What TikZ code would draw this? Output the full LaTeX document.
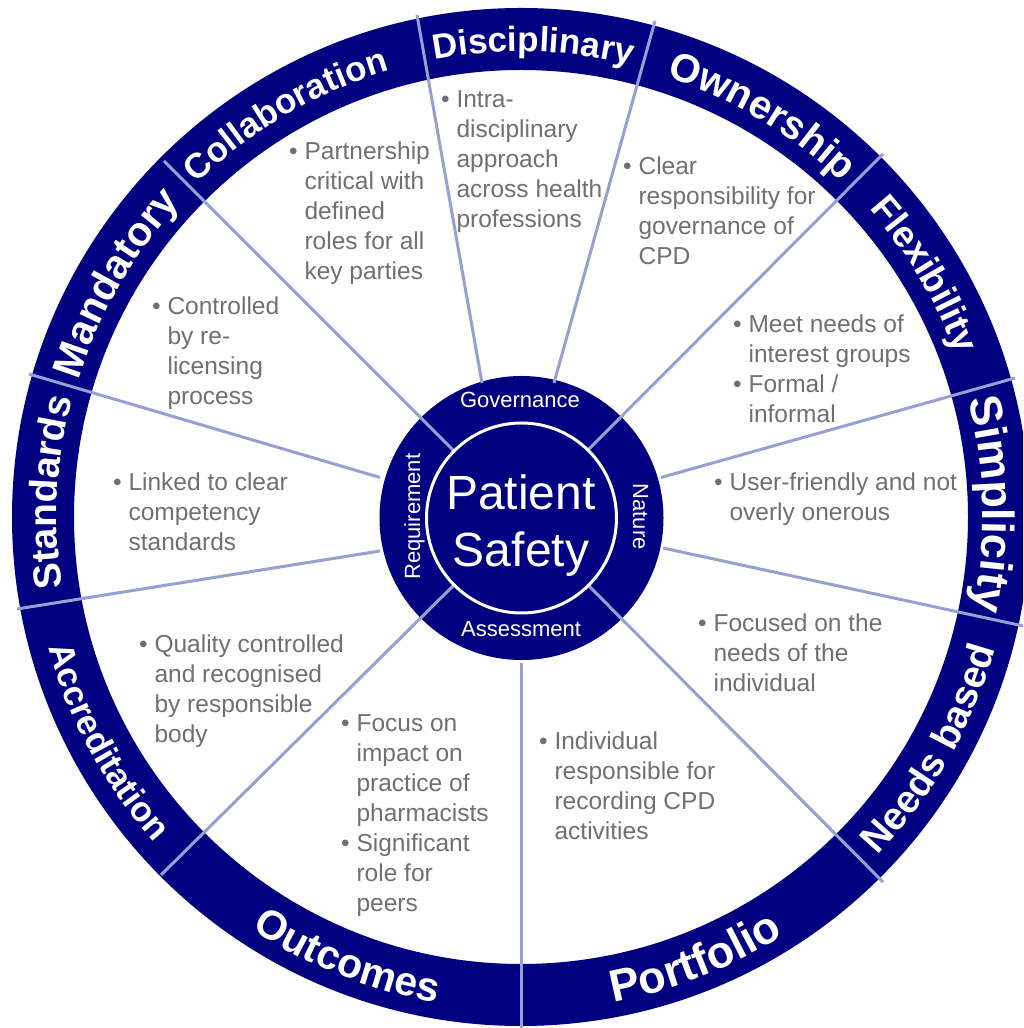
\documentclass[tikz,border=0pt]{standalone}
\usepackage{fontspec}
\setmainfont{Liberation Sans}
\usetikzlibrary{decorations.text}
\definecolor{navyc}{RGB}{0,0,128}
\definecolor{spoke}{RGB}{150,160,210}
\definecolor{bodyg}{RGB}{112,112,112}
\newcommand\blt{\textbullet}
% clockwise ring label: #1 centre angle, #2 font size, #3 text
\newcommand\cwl[3]{\pgfmathsetmacro\rr{478-0.358*#2}\path[ringlabel={#2}{#3}] ([shift={({#1+50}:\rr pt)}]C) arc[start angle={#1+50}, end angle={#1-50}, radius=\rr pt];}
% counter-clockwise ring label
\newcommand\ccwl[3]{\pgfmathsetmacro\rr{478+0.358*#2}\path[ringlabel={#2}{#3}] ([shift={({#1-50}:\rr pt)}]C) arc[start angle={#1-50}, end angle={#1+50}, radius=\rr pt];}
\tikzset{
  spokeline/.style={draw=spoke, line width=3pt},
  blockbox/.style={anchor=base west, inner sep=0pt, text=bodyg, font=\fontsize{24.5}{30}\selectfont},
  hublabel/.style={anchor=base, inner sep=0pt, text=white, font=\fontsize{22}{22}\selectfont},
  ringlabel/.style 2 args={decorate, decoration={text along path, text align=center, text={|\fontsize{#1}{#1}\selectfont\bfseries\color{white}|#2}}},
}
\begin{document}
\begin{tikzpicture}[x=1pt,y=1pt]
\useasboundingbox (0,0) rectangle (1023,1028);
\clip (0,0) rectangle (1023,1028);
\fill[white] (0,0) rectangle (1023,1028);
\coordinate (C) at (521,511);
\coordinate (H) at (521.5,510);
% ring and hub
\fill[navyc, even odd rule] (C) circle[radius=509pt] (C) circle[radius=447pt];
\fill[navyc] (H) circle[radius=142pt];
% spokes
\coordinate (o1) at (417,1013);  \coordinate (i1) at (482,645);
\coordinate (o2) at (655,1007);  \coordinate (i2) at (554,645);
\coordinate (o3) at (883,874);   \coordinate (i3) at (588,578);
\coordinate (o4) at (1015,650);  \coordinate (i4) at (661,550.5);
\coordinate (o5) at (1030,400.5);\coordinate (i5) at (663,480);
\coordinate (o6) at (883,146);   \coordinate (i6) at (589,442);
\coordinate (o7) at (521,-5);    \coordinate (i7) at (521,365);
\coordinate (o8) at (161,153);   \coordinate (i8) at (454,443);
\coordinate (o9) at (17,419);    \coordinate (i9) at (380,477);
\coordinate (o10) at (29,654);   \coordinate (i10) at (380,550.5);
\coordinate (o11) at (164,867);  \coordinate (i11) at (454,577);
\foreach \k in {1,...,11} {\draw[spokeline] (o\k) -- (i\k);}
\draw[white, line width=3pt] (H) circle[radius=95pt];
% hub texts
\node[anchor=base, inner sep=0pt, text=white, font=\fontsize{48}{57}\selectfont] (ps) at (521,518.7)
  {\begin{tabular}[t]{@{}c@{}}Patient\\Safety\end{tabular}};
\node[hublabel] (gov) at (520,620.3) {Governance};
\node[hublabel] (ass) at (521,391.3) {Assessment};
\node[hublabel, rotate=90] (req) at (420,511.3) {Requirement};
\node[hublabel, rotate=-90] (nat) at (633,511.3) {Nature};
% ring labels
\cwl{88.5}{35}{Disciplinary}
\cwl{59}{40}{Ownership}
\cwl{31}{37}{Flexibility}
\cwl{1.5}{45}{Simplicity}
\ccwl{-29.5}{39}{Needs based}
\ccwl{-68.5}{45}{Portfolio}
\ccwl{-111.5}{41}{Outcomes}
\ccwl{-151.5}{35}{Accreditation}
\cwl{177}{39}{Standards}
\cwl{150}{41}{Mandatory}
\cwl{120.3}{35}{Collaboration}
% body texts
\node[blockbox] (tdisc) at (440.8,920) {\begin{tabular}[t]{@{}l@{\hspace{7pt}}l@{}}\blt & Intra-\\ & disciplinary\\ & approach\\ & across health\\ & professions\end{tabular}};
\node[blockbox] (tcoll) at (288.8,868) {\begin{tabular}[t]{@{}l@{\hspace{7pt}}l@{}}\blt & Partnership\\ & critical with\\ & defined\\ & roles for all\\ & key parties\end{tabular}};
\node[blockbox] (town) at (622.8,853) {\begin{tabular}[t]{@{}l@{\hspace{7pt}}l@{}}\blt & Clear\\ & responsibility for\\ & governance of\\ & CPD\end{tabular}};
\node[blockbox] (tmand) at (151.8,713) {\begin{tabular}[t]{@{}l@{\hspace{7pt}}l@{}}\blt & Controlled\\ & by re-\\ & licensing\\ & process\end{tabular}};
\node[blockbox] (tflex) at (732.8,695) {\begin{tabular}[t]{@{}l@{\hspace{7pt}}l@{}}\blt & Meet needs of\\ & interest groups\\ \blt & Formal /\\ & informal\end{tabular}};
\node[blockbox] (tstd) at (112.8,537) {\begin{tabular}[t]{@{}l@{\hspace{7pt}}l@{}}\blt & Linked to clear\\ & competency\\ & standards\end{tabular}};
\node[blockbox] (tsimp) at (713.8,537) {\begin{tabular}[t]{@{}l@{\hspace{7pt}}l@{}}\blt & User-friendly and not\\ & overly onerous\end{tabular}};
\node[blockbox] (tneed) at (697.8,396) {\begin{tabular}[t]{@{}l@{\hspace{7pt}}l@{}}\blt & Focused on the\\ & needs of the\\ & individual\end{tabular}};
\node[blockbox] (tacc) at (138.8,375) {\begin{tabular}[t]{@{}l@{\hspace{7pt}}l@{}}\blt & Quality controlled\\ & and recognised\\ & by responsible\\ & body\end{tabular}};
\node[blockbox] (tout) at (340.8,296) {\begin{tabular}[t]{@{}l@{\hspace{7pt}}l@{}}\blt & Focus on\\ & impact on\\ & practice of\\ & pharmacists\\ \blt & Significant\\ & role for\\ & peers\end{tabular}};
\node[blockbox] (tport) at (538.8,278) {\begin{tabular}[t]{@{}l@{\hspace{7pt}}l@{}}\blt & Individual\\ & responsible for\\ & recording CPD\\ & activities\end{tabular}};
\end{tikzpicture}
\end{document}
